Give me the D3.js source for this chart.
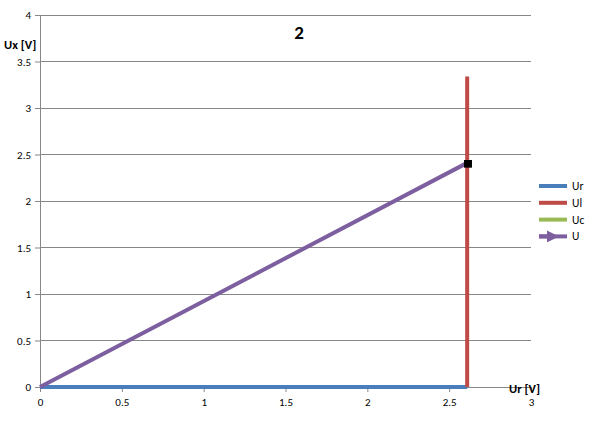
<!DOCTYPE html>
<html>
<head>
<meta charset="utf-8">
<script src="https://cdn.jsdelivr.net/npm/d3@7"></script>
<style>
body{margin:0;background:#fff;}
text{font-family:Carlito,Lato,"Liberation Sans",sans-serif;}
</style>
</head>
<body>
<div id="chart"></div>
<script>
// vector end points [Ur, Ux]
const urData = [[0, 0], [2.61, 0]];
const ulData = [[2.61, 0], [2.61, 3.34]];
const ucData = [[2.61, 3.34], [2.61, 3.34]];
const uData = [[0, 0], [2.61, 2.41]];
const seriesNames = ["Ur", "Ul", "Uc", "U"];
const seriesColors = ["#4a7ebb", "#be4b48", "#98b954", "#7d5fa0"];
const xTicks = [0, 0.5, 1, 1.5, 2, 2.5, 3];
const yTicks = [0, 0.5, 1, 1.5, 2, 2.5, 3, 3.5, 4];

const width = 599, height = 424;
const svg = d3.select("#chart").append("svg")
    .attr("width", width)
    .attr("height", height);

const x = d3.scaleLinear().domain([0, 3]).range([40, 531]);
const y = d3.scaleLinear().domain([0, 4]).range([387, 15]);

// horizontal grid
svg.append("g")
    .selectAll("line")
    .data(yTicks.slice(1))
    .enter().append("line")
    .attr("x1", x(0)).attr("x2", x(3))
    .attr("y1", d => y(d)).attr("y2", d => y(d))
    .attr("stroke", "#878787")
    .attr("stroke-width", 1)
    .attr("shape-rendering", "crispEdges");

const yAxis = svg.append("g")
    .attr("transform", "translate(" + x(0) + ",0)")
    .call(d3.axisLeft(y).tickValues(yTicks).tickSize(5).tickSizeOuter(0).tickFormat(d3.format("")));
const xAxis = svg.append("g")
    .attr("transform", "translate(0," + y(0) + ")")
    .call(d3.axisBottom(x).tickValues(xTicks).tickSize(5).tickSizeOuter(0).tickFormat(d3.format("")));

[xAxis, yAxis].forEach(a => {
    a.select(".domain").attr("stroke", "#878787");
    a.selectAll(".tick line").attr("stroke", "#878787");
    a.selectAll(".tick text")
        .attr("fill", "#000")
        .style("font-size", "11px")
        .style("font-family", "Carlito,Lato,'Liberation Sans',sans-serif");
});
yAxis.selectAll(".tick text").attr("x", -9);
xAxis.selectAll(".tick text").attr("y", 11);

const line = d3.line().x(d => x(d[0])).y(d => y(d[1]));

const defs = svg.append("defs");
defs.append("marker")
    .attr("id", "arrow")
    .attr("viewBox", "0 0 10 10")
    .attr("refX", 4).attr("refY", 4)
    .attr("markerWidth", 2).attr("markerHeight", 2)
    .attr("orient", "0")
    .append("rect")
    .attr("width", 10).attr("height", 10)
    .attr("fill", "#000");
defs.append("marker")
    .attr("id", "legArrow")
    .attr("viewBox", "0 0 10 10")
    .attr("refX", 5).attr("refY", 5)
    .attr("markerWidth", 3).attr("markerHeight", 3)
    .attr("orient", "auto")
    .append("path")
    .attr("d", "M0,0 L10,5 L0,10 Z")
    .attr("fill", seriesColors[3]);

const series = [urData, ulData, ucData, uData];
series.forEach((s, i) => {
    svg.append("path")
        .datum(s)
        .attr("d", line)
        .attr("fill", "none")
        .attr("stroke", seriesColors[i])
        .attr("stroke-width", 4)
        .attr("marker-end", i === 3 ? "url(#arrow)" : null);
});

// title and axis titles
svg.append("text")
    .attr("x", 299).attr("y", 39)
    .attr("text-anchor", "middle")
    .style("font-size", "19px")
    .style("font-weight", "bold")
    .text("2");
svg.append("text")
    .attr("x", 4).attr("y", 49)
    .style("font-size", "12.5px")
    .style("font-weight", "bold")
    .text("Ux [V]");
svg.append("text")
    .attr("x", 509).attr("y", 393)
    .style("font-size", "12.5px")
    .style("font-weight", "bold")
    .text("Ur [V]");

// legend
const legend = svg.append("g")
    .selectAll("g")
    .data(seriesNames)
    .enter().append("g")
    .attr("transform", (d, i) => "translate(539," + (186 + i * 16.8) + ")");
legend.append("line")
    .attr("x1", 0).attr("x2", 28)
    .attr("stroke", (d, i) => seriesColors[i])
    .attr("stroke-width", 4);
legend.filter((d, i) => i === 3).append("line")
    .attr("x1", 0).attr("x2", 14)
    .attr("stroke", seriesColors[3])
    .attr("stroke-width", 4)
    .attr("marker-end", "url(#legArrow)");
legend.append("text")
    .attr("x", 33).attr("y", 4)
    .style("font-size", "11.5px")
    .text(d => d);
</script>
</body>
</html>
